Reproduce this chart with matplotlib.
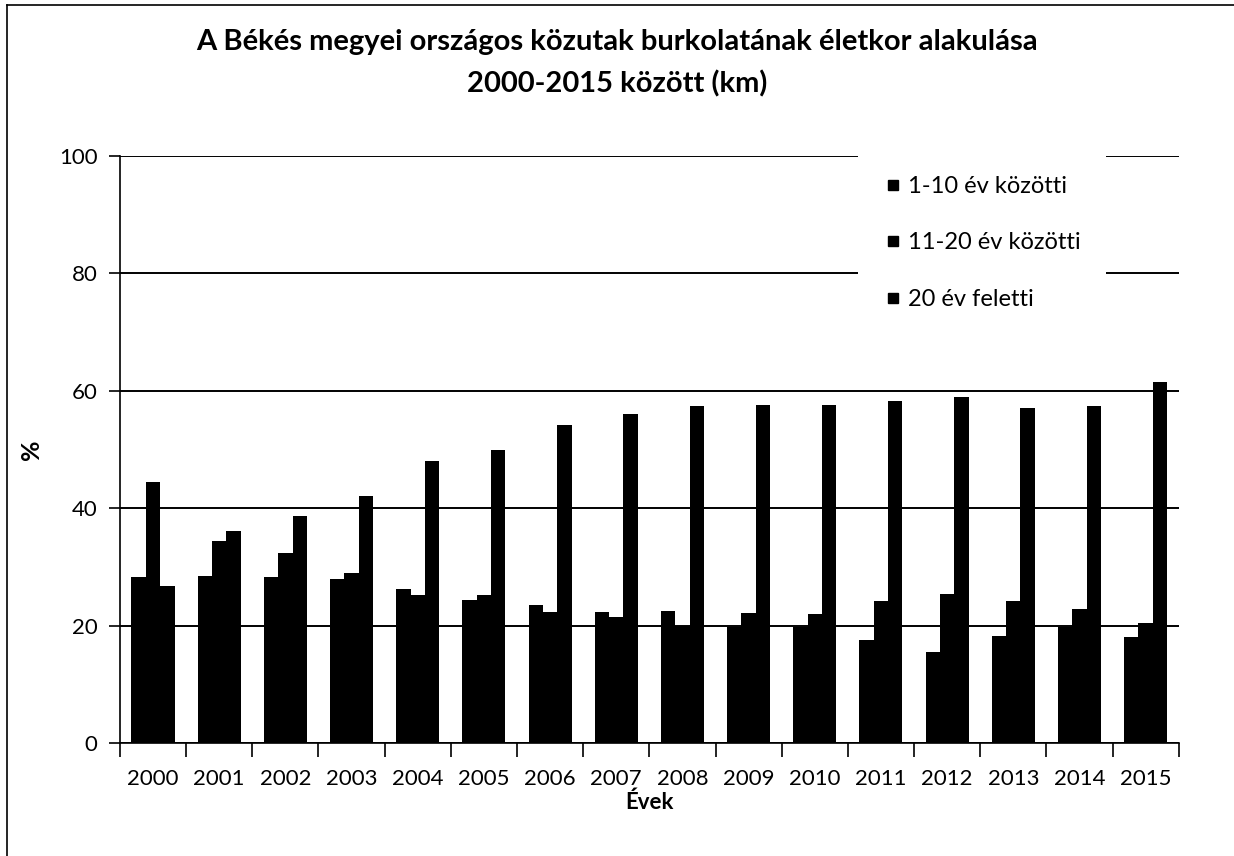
import matplotlib.pyplot as plt
import numpy as np
from matplotlib.lines import Line2D

plt.rcParams['font.family'] = ['Lato', 'DejaVu Sans']

evek = [str(e) for e in range(2000, 2016)]
ev_1_10 = [28.3, 28.4, 28.3, 27.9, 26.3, 24.3, 23.5, 22.3, 22.5, 19.8, 19.8, 17.5, 15.5, 18.3, 19.8, 18.0]
ev_11_20 = [44.4, 34.4, 32.3, 29.0, 25.2, 25.2, 22.3, 21.5, 20.0, 22.2, 22.0, 24.1, 25.3, 24.2, 22.8, 20.5]
ev_20_felett = [26.7, 36.1, 38.6, 42.1, 48.0, 49.9, 54.2, 56.0, 57.4, 57.6, 57.6, 58.3, 59.0, 57.1, 57.4, 61.5]
cimkek = ['1-10 év közötti', '11-20 év közötti', '20 év feletti']

fig = plt.figure(figsize=(12.34, 8.56), dpi=100)
ax = fig.add_axes([0.0972, 0.132, 0.858, 0.686])

x = np.arange(len(evek))
w = 0.217
for i, sor in enumerate([ev_1_10, ev_11_20, ev_20_felett]):
    ax.bar(x + (i - 1) * w, sor, width=w, color='black', label=cimkek[i], zorder=3)

ax.set_xlim(-0.5, len(evek) - 0.5)
ax.set_ylim(0, 100)
ax.set_yticks(range(0, 101, 20))
ax.yaxis.grid(True, color='black', linewidth=1.4, zorder=0)
ax.set_axisbelow(True)

# x tickek a kategóriák határán
ax.set_xticks(np.arange(-0.5, len(evek)), minor=False)
ax.set_xticklabels([])
ax.set_xticks(x, minor=True)
ax.set_xticklabels(evek, minor=True)
ax.tick_params(axis='x', which='major', direction='out', length=10, width=1.2)
ax.tick_params(axis='x', which='minor', length=0, labelsize=16, pad=19)
ax.tick_params(axis='y', direction='out', length=8, width=1.2, labelsize=16, pad=8)

ax.spines['top'].set_visible(False)
ax.spines['right'].set_visible(False)
ax.spines['left'].set_linewidth(1.2)
ax.spines['bottom'].set_linewidth(1.2)

ax.set_xlabel('Évek', fontsize=16, fontweight='bold')
ax.xaxis.set_label_coords(0.5, -0.083)
ax.set_ylabel('%', fontsize=18, fontweight='bold')
ax.yaxis.set_label_coords(-0.073, 0.5)

fig.suptitle('A Békés megyei országos közutak burkolatának életkor alakulása\n2000-2015 között (km)',
             fontsize=21, fontweight='bold', y=0.966, linespacing=1.7)

kezek = [Line2D([], [], marker='s', color='black', linestyle='none', markersize=7.5) for _ in cimkek]
leg = fig.legend(kezek, cimkek, loc='upper left', bbox_to_anchor=(0.6953, 0.8248),
                 borderaxespad=0, fontsize=17, frameon=True, facecolor='white', edgecolor='none',
                 framealpha=1, fancybox=False, labelspacing=1.5, handletextpad=0.2,
                 borderpad=1.1, handlelength=0.8)
leg.set_zorder(5)

# keret
fig.add_artist(Line2D([0.0057, 0.0057], [0, 0.994], color='black', linewidth=1.2, transform=fig.transFigure))
fig.add_artist(Line2D([0.0057, 1], [0.994, 0.994], color='black', linewidth=1.2, transform=fig.transFigure))

fig.savefig('out.png', dpi=100)
